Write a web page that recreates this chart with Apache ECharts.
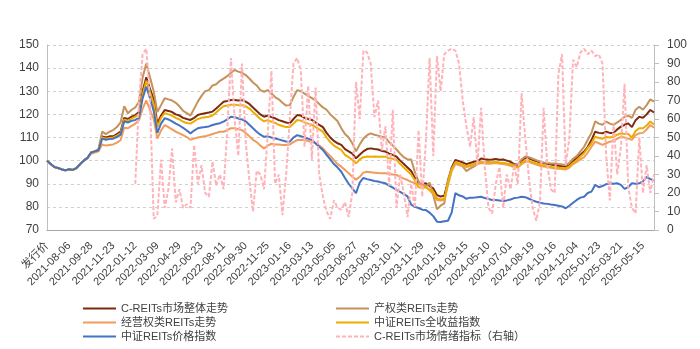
<!DOCTYPE html>
<html><head><meta charset="utf-8">
<script src="https://cdn.jsdelivr.net/npm/echarts@6/dist/echarts.min.js"></script>
<style>html,body{margin:0;padding:0;background:#fff}#c{width:700px;height:349px}</style>
</head><body><div id="c"></div>
<script>
const tickLabels = ['发行价','2021-08-06','2021-09-28','2021-11-23','2022-01-12','2022-03-09','2022-04-29','2022-06-23','2022-08-11','2022-09-30','2022-11-25','2023-01-16','2023-03-13','2023-05-05','2023-06-27','2023-08-15','2023-10-11','2023-11-29','2024-01-18','2024-03-15','2024-05-10','2024-07-01','2024-08-19','2024-10-16','2024-12-04','2025-01-23','2025-03-21','2025-05-15'];
const seriesNames = ['C-REITs市场整体走势','产权类REITs走势','经营权类REITs走势','中证REITs全收益指数','中证REITs价格指数','C-REITs市场情绪指标（右轴）'];

const overall = [100,98.5,97.2,96.8,96.2,95.8,96.3,96.0,96.8,98.5,100.0,101.2,103.5,104.0,104.8,110.5,110.0,110.5,110.5,111.5,112.5,118.5,118.0,119.0,119.7,121.0,130.0,136.0,131.0,126.5,116.0,119.5,121.9,121.5,121.0,120.0,119.5,118.5,118.0,117.6,118.5,119.7,120.2,120.5,120.8,121.2,122.5,124.0,125.5,125.8,126.2,126.2,126.0,126.2,125.5,124.5,123.0,121.5,120.0,119.0,119.5,118.8,118.3,117.5,117.0,116.5,116.1,118.0,119.7,119.5,118.5,118.0,117.6,116.5,115.5,114.5,112.0,110.0,108.5,107.5,106.8,105.0,104.0,103.0,101.0,102.5,104.0,105.0,105.3,105.0,104.8,104.2,103.9,103.0,102.5,101.7,100.0,98.5,97.0,95.5,92.5,90.2,90.0,90.2,89.0,88.0,85.1,84.5,84.8,91.0,97.0,100.3,99.8,99.2,98.5,99.0,99.5,99.7,100.9,100.6,100.4,100.5,100.7,100.4,100.5,100.0,99.5,98.5,98.1,100.0,101.2,101.0,100.3,99.8,99.2,99.0,98.6,98.3,98.0,97.8,97.6,97.4,98.0,99.8,101.0,102.5,103.9,106.0,108.9,112.5,112.0,111.8,112.5,112.0,112.0,113.5,114.7,115.5,116.1,114.5,117.5,119.0,118.5,120.0,121.9,120.8];
const propertyType = [100,98.5,97.2,96.8,96.2,95.8,96.3,96.0,96.8,98.5,100.0,101.2,103.5,104.0,105.0,112.5,111.5,112.5,113.2,114.5,116.5,123.5,120.5,122.0,123.0,125.5,136.0,142.0,136.0,130.0,121.0,124.0,127.0,126.5,126.0,125.0,123.5,121.5,120.5,119.5,122.5,125.5,128.0,130.0,130.5,132.5,133.0,134.5,135.5,136.5,138.0,139.2,138.5,138.0,137.0,135.5,133.8,132.5,130.5,129.8,130.5,129.0,127.5,126.5,125.0,123.8,124.0,127.5,130.5,130.0,129.0,128.0,127.0,126.0,124.5,123.0,122.0,120.0,118.5,117.0,114.0,111.5,110.0,107.5,104.0,107.0,109.5,111.0,111.8,111.2,110.8,110.3,110.0,108.0,106.5,104.8,103.0,101.5,100.5,100.5,95.0,91.0,89.5,88.7,90.5,85.0,79.0,80.5,81.5,92.0,96.5,98.8,98.2,97.5,95.5,96.5,97.4,98.5,99.5,99.2,99.5,99.0,99.2,98.8,99.0,98.7,98.5,98.2,98.5,100.5,101.8,101.5,100.8,100.2,99.5,99.2,99.0,98.8,98.8,98.5,98.3,98.1,99.0,100.8,102.0,104.0,106.0,109.0,112.0,117.0,116.0,115.5,116.9,116.0,115.5,116.5,117.6,119.0,119.5,118.5,122.0,123.3,122.0,124.0,126.5,125.5];
const operatingType = [100,98.5,97.2,96.8,96.2,95.8,96.3,96.0,96.8,98.5,100.0,101.0,103.0,103.5,104.0,107.0,106.5,106.8,107.0,107.8,108.8,114.2,114.0,115.0,116.0,117.5,122.5,126.0,122.0,118.0,109.5,113.0,115.4,114.5,113.5,112.5,111.8,111.0,110.2,109.0,109.5,110.0,110.3,110.5,111.0,111.5,112.0,112.5,112.5,113.2,114.0,114.0,113.6,113.2,112.0,110.5,109.0,108.0,106.5,105.3,106.5,107.3,107.0,107.0,106.8,106.8,107.0,108.0,108.9,108.9,109.0,108.5,108.0,107.5,106.5,105.3,103.5,102.0,100.2,98.5,97.4,96.0,94.5,93.0,91.8,93.0,94.8,95.2,95.0,94.8,94.6,94.5,94.5,94.2,94.0,93.8,93.0,92.2,91.6,90.8,90.2,90.0,89.2,88.5,87.2,85.5,83.0,82.8,83.0,89.5,95.5,98.5,98.2,97.8,97.2,97.6,98.0,98.5,99.0,98.8,98.7,98.8,99.0,98.7,98.5,98.2,97.8,97.2,97.0,98.5,99.5,99.5,98.8,98.3,97.8,97.5,97.2,96.9,96.6,96.5,96.4,96.2,97.0,98.5,99.5,100.5,101.5,103.5,106.0,108.2,107.5,106.8,107.5,108.2,108.5,109.5,110.3,110.0,109.5,109.0,111.0,111.8,112.0,113.5,115.4,114.2];
const totalReturn = [100,98.5,97.2,96.8,96.2,95.8,96.3,96.0,96.8,98.5,100.0,101.2,103.5,104.0,104.5,110.0,109.5,109.8,110.0,110.8,111.8,117.8,117.2,118.2,119.0,120.3,128.5,134.5,129.5,124.5,114.5,118.5,120.5,120.0,119.5,118.5,117.8,116.8,116.3,116.0,117.0,118.0,118.5,118.8,119.0,119.5,120.8,122.3,123.5,123.8,124.2,124.2,124.0,124.0,123.5,122.5,121.0,119.5,118.0,117.0,117.5,116.8,116.3,115.5,115.0,114.5,114.5,116.0,117.6,117.3,116.5,116.0,115.5,114.5,113.5,112.5,110.0,108.0,106.5,105.5,104.6,102.5,101.5,100.3,98.8,100.5,101.5,101.8,101.7,101.8,101.7,101.7,101.7,101.0,100.8,100.3,98.5,97.0,95.5,94.0,91.5,88.5,88.3,88.5,87.5,86.5,83.7,83.2,83.5,90.0,96.0,99.3,98.8,98.3,97.6,98.0,98.6,99.0,99.5,99.3,99.2,99.3,99.5,99.2,99.0,98.7,98.3,97.6,97.2,99.0,100.2,100.0,99.3,98.8,98.3,98.0,97.6,97.3,97.0,96.9,96.8,96.7,97.5,99.0,100.2,101.8,103.2,105.5,107.5,110.3,109.8,109.5,110.2,110.0,110.3,111.2,111.8,111.5,111.5,110.0,112.8,114.0,114.0,115.2,116.9,115.6];
const priceIndex = [100,98.5,97.2,96.8,96.2,95.8,96.3,96.0,96.8,98.5,100.0,101.2,103.5,104.0,104.5,109.5,109.0,109.3,109.5,110.2,111.2,117.0,116.5,117.2,117.6,118.5,127.0,132.0,127.0,121.5,112.0,116.0,118.4,117.8,117.0,116.0,115.2,114.2,113.0,111.8,113.0,114.0,114.3,114.5,114.8,115.4,115.8,116.2,116.9,117.8,119.0,118.8,118.2,117.8,117.0,115.5,114.0,112.5,111.2,110.3,110.5,110.0,109.6,109.2,108.7,108.3,108.2,110.0,111.0,110.6,110.0,109.5,108.9,107.5,106.0,104.6,102.5,100.5,98.5,97.0,95.2,92.5,90.0,88.0,85.9,90.5,92.5,92.0,91.6,91.2,91.0,90.5,90.2,89.2,88.3,87.3,86.5,85.5,84.5,81.0,80.0,79.5,78.8,78.6,77.5,76.0,73.6,73.5,73.8,74.0,77.5,85.9,85.0,84.5,83.5,84.0,84.0,84.2,84.4,83.8,83.4,83.0,83.0,82.8,82.5,82.8,83.2,83.8,84.0,84.4,84.2,83.5,82.8,82.2,81.8,81.5,81.3,81.0,80.8,80.5,80.2,79.4,80.5,81.8,83.0,84.0,84.4,86.0,86.6,89.5,88.5,89.0,89.8,90.2,90.0,90.2,89.5,87.8,88.5,90.2,90.0,90.2,91.0,93.0,92.0,91.5];
const sentiment = [null,null,null,null,null,null,null,null,null,null,null,null,null,null,null,null,null,null,null,null,null,null,null,null,25,70,95,98,70,6,8,38,12,22,44,15,22,12,14,12,46,25,35,20,18,37,24,30,22,54,93,60,40,90,48,27,10,32,30,22,52,86,25,30,8,30,60,90,93,86,45,78,38,77,30,18,10,6,16,12,11,15,7,20,80,60,97,96,90,61,70,43,56,24,65,12,30,20,7,25,12,54,18,48,93,40,94,75,95,97,98,97,90,70,56,45,61,35,66,34,12,9,25,34,12,30,22,35,25,74,50,28,12,5,15,66,35,22,20,84,95,35,50,92,88,96,98,95,97,94,95,90,40,16,58,30,45,79,23,12,9,50,20,35,20,30];

const categories = overall.map((_, i) => (i % 6 === 0 && tickLabels[i / 6] !== undefined) ? tickLabels[i / 6] : ('#' + i));

const FONT = '"Liberation Sans", Arial, "Noto Sans CJK SC", sans-serif';
const colors = ['#7E2A0E', '#C4925A', '#F09C5B', '#EBAE00', '#4472C4', '#FFB3B9'];

const chart = echarts.init(document.getElementById('c'), null, {renderer: 'canvas'});
function lineSeries(name, data, color, extra) {
  return Object.assign({
    name, type: 'line', data, symbol: 'none', showSymbol: false, smooth: false,
    lineStyle: {color, width: 2}, itemStyle: {color}, emphasis: {disabled: true}, animation: false
  }, extra || {});
}
const legendBase = {top: 303, orient: 'vertical', padding: 0, height: 60, itemWidth: 33, itemHeight: 12, itemGap: 3,
  itemStyle: {opacity: 0},
  textStyle: {fontSize: 11, color: '#404040', fontFamily: FONT}};
chart.setOption({
  animation: false,
  textStyle: {fontFamily: FONT},
  grid: {left: 47, right: 46, top: 45, bottom: 119, containLabel: false},
  legend: [
    Object.assign({left: 82, data: [seriesNames[0], seriesNames[2], seriesNames[4]]}, legendBase),
    Object.assign({left: 335, data: [seriesNames[1], seriesNames[3], seriesNames[5]]}, legendBase)
  ],
  xAxis: {
    type: 'category', data: categories, boundaryGap: false,
    axisLine: {lineStyle: {color: '#A6A6A6', width: 1}},
    axisTick: {show: false},
    axisLabel: {interval: 5, rotate: 45, margin: 14, fontSize: 11, color: '#404040', fontFamily: FONT,
      formatter: v => v.charAt(0) === '#' ? '' : v},
    splitLine: {show: false}
  },
  yAxis: [
    {type: 'value', min: 70, max: 150, interval: 10,
     axisLine: {show: true, lineStyle: {color: '#BFBFBF'}}, axisTick: {show: false},
     axisLabel: {fontSize: 12, color: '#404040', margin: 8, fontFamily: FONT},
     splitLine: {show: true, lineStyle: {color: '#D0D0D0', type: [3, 3], width: 1}}},
    {type: 'value', min: 0, max: 100, interval: 10, position: 'right',
     axisLine: {show: true, lineStyle: {color: '#BFBFBF'}},
     axisTick: {show: true, length: 5, inside: false, lineStyle: {color: '#BFBFBF'}},
     axisLabel: {fontSize: 12, color: '#404040', margin: 13, fontFamily: FONT},
     splitLine: {show: false}}
  ],
  series: [
    lineSeries(seriesNames[0], overall, colors[0]),
    lineSeries(seriesNames[1], propertyType, colors[1]),
    lineSeries(seriesNames[2], operatingType, colors[2]),
    lineSeries(seriesNames[3], totalReturn, colors[3]),
    lineSeries(seriesNames[4], priceIndex, colors[4]),
    lineSeries(seriesNames[5], sentiment, colors[5], {yAxisIndex: 1, connectNulls: false,
      lineStyle: {color: colors[5], width: 2, type: [4, 2]}})
  ]
});
</script></body></html>
